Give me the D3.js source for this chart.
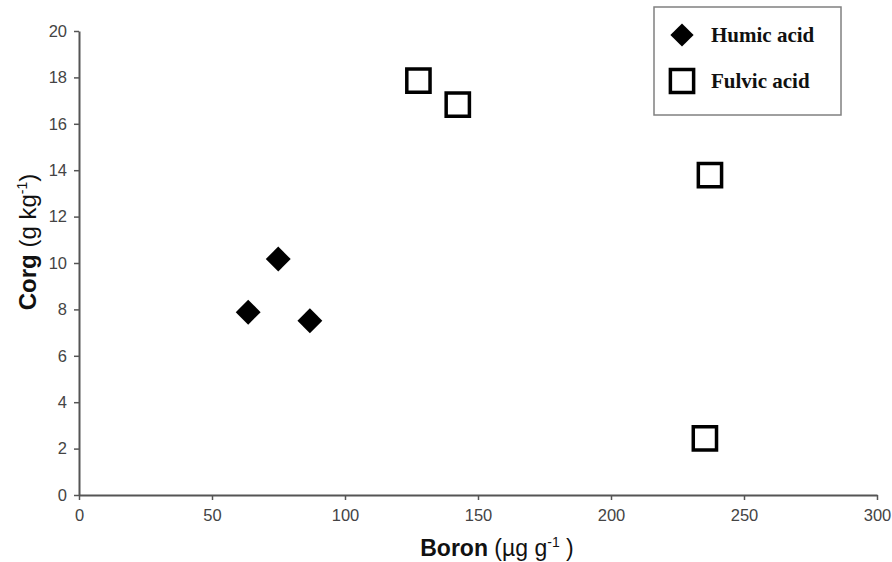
<!DOCTYPE html>
<html>
<head>
<meta charset="utf-8">
<script src="https://cdn.jsdelivr.net/npm/d3@7"></script>
<style>
    body { margin: 0; background: #fff; }
    #container text { font-family: Arial, "Liberation Sans", sans-serif; }
</style>
</head>
<body>
<div id="container"></div>
<script>
// data
var humicBoron = [63.6, 74.9, 86.8];
var humicCorg = [7.88, 10.17, 7.51];
var fulvicBoron = [127.6, 142.4, 237.2, 235.3];
var fulvicCorg = [17.86, 16.83, 13.79, 2.44];
var xTicks = [0, 50, 100, 150, 200, 250, 300];
var yTicks = [0, 2, 4, 6, 8, 10, 12, 14, 16, 18, 20];

const width = 892,
    height = 562,
    margin = {
        top: 31,
        bottom: 67,
        left: 79,
        right: 15
    };

var svg = d3.select("#container").append("svg")
    .attr("width", width)
    .attr("height", height)
    .style("display", "block");

var x = d3.scaleLinear()
    .domain([0, 300])
    .range([margin.left, width - margin.right]);

var y = d3.scaleLinear()
    .domain([0, 20])
    .range([height - margin.bottom, margin.top]);

var axisColor = "#555";

// x-axis
var xAxis = svg.append("g")
    .attr("transform", `translate(0, ${y(0)})`)
    .call(d3.axisBottom(x).tickValues(xTicks).tickSize(5).tickSizeOuter(0).tickPadding(8));

// y-axis
var yAxis = svg.append("g")
    .attr("transform", `translate(${x(0)}, 0)`)
    .call(d3.axisLeft(y).tickValues(yTicks).tickSize(5).tickSizeOuter(0).tickPadding(7));

[xAxis, yAxis].forEach(function(g) {
    g.select(".domain").attr("stroke", axisColor).attr("stroke-width", 2);
    g.selectAll(".tick line").attr("stroke", axisColor).attr("stroke-width", 1.5);
    g.selectAll(".tick text")
        .attr("fill", "#444")
        .style("font-size", "16.5px");
});
xAxis.selectAll(".tick text").attr("dy", "0.8em");

// axis titles
var xTitle = svg.append("text")
    .attr("x", 497)
    .attr("y", 556)
    .attr("text-anchor", "middle")
    .attr("fill", "#111")
    .style("font-size", "23px");
xTitle.append("tspan").attr("font-weight", "bold").text("Boron");
xTitle.append("tspan").text(" (\u00b5g g");
xTitle.append("tspan").attr("dy", -9).style("font-size", "14px").text("-1");
xTitle.append("tspan").attr("dy", 9).text(" )");

var yTitle = svg.append("text")
    .attr("transform", `translate(36, 242) rotate(-90)`)
    .attr("text-anchor", "middle")
    .attr("fill", "#111")
    .style("font-size", "24px");
yTitle.append("tspan").attr("font-weight", "bold").text("Corg");
yTitle.append("tspan").text(" (g kg");
yTitle.append("tspan").attr("dy", -9).style("font-size", "14px").text("-1");
yTitle.append("tspan").attr("dy", 9).text(")");

// markers
var diamond = d3.symbol().type(d3.symbolSquare).size(310);
var square = d3.symbol().type(d3.symbolSquare).size(540);

svg.append("g").selectAll("path")
    .data(humicBoron.map(function(b, i) { return [b, humicCorg[i]]; }))
    .enter()
    .append("path")
    .attr("d", diamond)
    .attr("transform", function(d) { return `translate(${x(d[0])}, ${y(d[1])}) rotate(45)`; })
    .attr("fill", "#000");

svg.append("g").selectAll("path")
    .data(fulvicBoron.map(function(b, i) { return [b, fulvicCorg[i]]; }))
    .enter()
    .append("path")
    .attr("d", square)
    .attr("transform", function(d) { return `translate(${x(d[0])}, ${y(d[1])})`; })
    .attr("fill", "#fff")
    .attr("stroke", "#000")
    .attr("stroke-width", 3.5);

// legend
var legend = svg.append("g");
legend.append("rect")
    .attr("x", 654)
    .attr("y", 7)
    .attr("width", 187)
    .attr("height", 108)
    .attr("fill", "#fff")
    .attr("stroke", "#808080")
    .attr("stroke-width", 1.5);

legend.append("path")
    .attr("d", d3.symbol().type(d3.symbolSquare).size(270))
    .attr("transform", "translate(682, 35) rotate(45)");
legend.append("path")
    .attr("d", square)
    .attr("transform", "translate(682, 81)")
    .attr("fill", "#fff")
    .attr("stroke", "#000")
    .attr("stroke-width", 3.5);

legend.selectAll(".label")
    .data(["Humic acid", "Fulvic acid"])
    .enter()
    .append("text")
    .attr("class", "label")
    .attr("x", 711)
    .attr("y", function(d, i) { return 42 + i * 46; })
    .style("font-family", "'Liberation Serif', 'Times New Roman', serif")
    .style("font-weight", "bold")
    .style("font-size", "21px")
    .attr("fill", "#111")
    .text(function(d) { return d; });
</script>
</body>
</html>
